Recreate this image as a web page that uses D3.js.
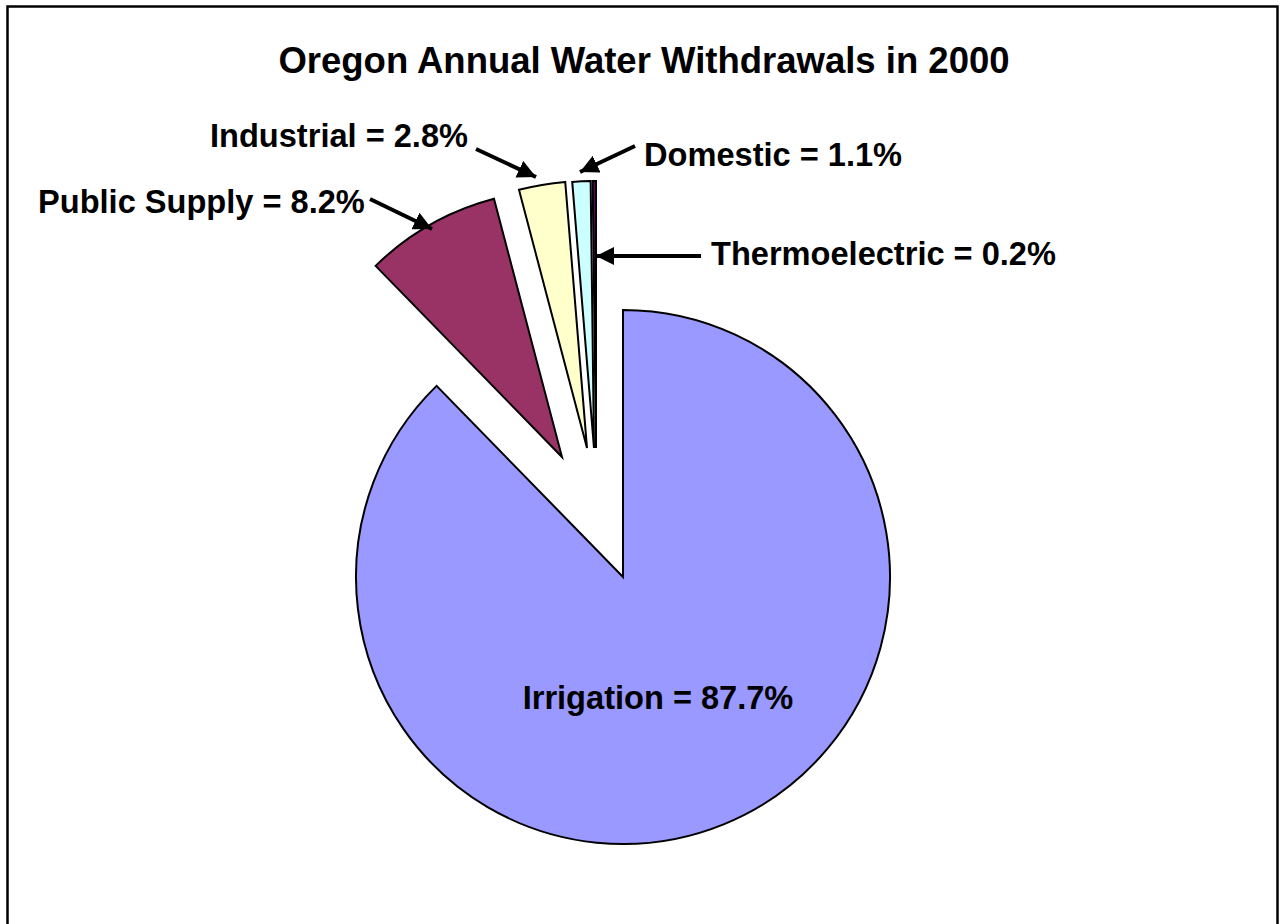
<!DOCTYPE html>
<html>
<head>
<meta charset="utf-8">
<script src="https://cdn.jsdelivr.net/npm/d3@7"></script>
<style>
  body { margin: 0; background: #fff; }
  text { font-family: "Liberation Sans", Arial, sans-serif; font-weight: bold; fill: #000; }
</style>
</head>
<body>
<script>
// data
var categories = ["Irrigation", "Public Supply", "Industrial", "Domestic", "Thermoelectric"];
var percents = [87.7, 8.2, 2.8, 1.1, 0.2];
var colors = ["#9999FF", "#993366", "#FFFFCC", "#CCFFFF", "#660066"];

// layout
var W = 1285, H = 924;
var cx = 623, cy = 577, radius = 267;
// how far each slice is pulled out (px)
var explode = [[0, 0], [-61, -120], [-36, -129], [-29, -129], [-27, -129]];
// label anchor + arrow (from, to) for each slice
var labelPos = [
  {x: 658, y: 709, anchor: "middle", arrow: null},
  {x: 38, y: 213, anchor: "start", arrow: [370, 199, 432, 229]},
  {x: 210, y: 147, anchor: "start", arrow: [476, 149, 536, 177]},
  {x: 644, y: 166, anchor: "start", arrow: [635, 146, 580, 172]},
  {x: 711, y: 265, anchor: "start", arrow: [701, 256, 596, 256]}
];

var svg = d3.select("body").append("svg")
  .attr("width", W)
  .attr("height", H);

svg.append("rect")
  .attr("x", 7.5).attr("y", 6.5)
  .attr("width", 1270).attr("height", 940)
  .attr("fill", "#fff")
  .attr("stroke", "#000")
  .attr("stroke-width", 2.5);

svg.append("defs").append("marker")
  .attr("id", "head")
  .attr("viewBox", "0 0 10 10")
  .attr("refX", 10).attr("refY", 5)
  .attr("markerWidth", 4.6).attr("markerHeight", 4.6)
  .attr("markerUnits", "strokeWidth")
  .attr("orient", "auto")
  .append("path")
  .attr("d", "M0,0 L10,5 L0,10 Z")
  .attr("fill", "#000");

svg.append("text")
  .attr("x", 644).attr("y", 73)
  .attr("text-anchor", "middle")
  .style("font-size", "36.5px")
  .text("Oregon Annual Water Withdrawals in 2000");

var pie = d3.pie().sort(null).value(function(d){ return d; });
var arcs = pie(percents);
var arc = d3.arc().innerRadius(0).outerRadius(radius);

svg.selectAll("path.slice")
  .data(arcs)
  .enter()
  .append("path")
  .attr("class", "slice")
  .attr("transform", function(d, i){
    return "translate(" + (cx + explode[i][0]) + "," + (cy + explode[i][1]) + ")";
  })
  .attr("d", arc)
  .attr("fill", function(d, i){ return colors[i]; })
  .attr("stroke", "#000")
  .attr("stroke-width", 2)
  .attr("stroke-linejoin", "miter");

labelPos.forEach(function(p, i){
  svg.append("text")
    .attr("x", p.x).attr("y", p.y)
    .attr("text-anchor", p.anchor)
    .style("font-size", "32.6px")
    .text(categories[i] + " = " + percents[i].toFixed(1) + "%");
  if (p.arrow) {
    svg.append("line")
      .attr("x1", p.arrow[0]).attr("y1", p.arrow[1])
      .attr("x2", p.arrow[2]).attr("y2", p.arrow[3])
      .attr("stroke", "#000")
      .attr("stroke-width", 4)
      .attr("marker-end", "url(#head)");
  }
});
</script>
</body>
</html>
